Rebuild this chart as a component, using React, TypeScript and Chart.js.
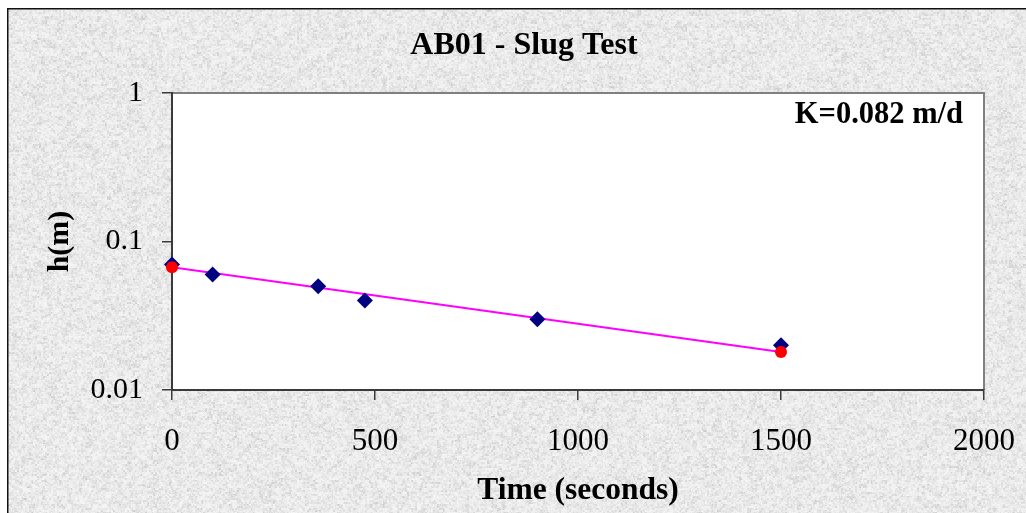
import React, { useEffect, useRef } from 'react';
import { Chart, registerables } from 'chart.js';

Chart.register(...registerables);

// ---- data ----
const times = [0, 100, 360, 475, 900, 1500];
const heads = [0.07, 0.06, 0.05, 0.04, 0.03, 0.02];
const fitTimes = [0, 1500];
const fitHeads = [0.067, 0.018];
const xTicks = [0, 500, 1000, 1500, 2000];
const yTicks = [0.01, 0.1, 1];
const yTickLabels = ['0.01', '0.1', '1'];
const chartTitle = 'AB01 - Slug Test';
const xTitle = 'Time (seconds)';
const yTitle = 'h(m)';
const kLabel = 'K=0.082 m/d';

const SERIF = "'Liberation Serif', 'Times New Roman', serif";
const W = 1019;
const H = 505;

function hash(x: number, y: number): number {
  const s = Math.sin(x * 12.9898 + y * 78.233) * 43758.5453;
  return s - Math.floor(s);
}

function makeTexture(w: number, h: number): HTMLCanvasElement {
  const off = document.createElement('canvas');
  off.width = w;
  off.height = h;
  const octx = off.getContext('2d')!;
  const img = octx.createImageData(w, h);
  for (let y = 0; y < h; y++) {
    for (let x = 0; x < w; x++) {
      const n1 = hash(Math.floor(x / 2), Math.floor(y / 2));
      const n2 = hash(x + 0.37, y + 0.71);
      const n3 = hash(Math.floor(x / 5) + 11.3, Math.floor(y / 4) + 7.1);
      const n = 0.45 * n1 + 0.3 * n2 + 0.25 * n3;
      const v = Math.round(246 - 48 * n * n);
      const i = (y * w + x) * 4;
      img.data[i] = v;
      img.data[i + 1] = v;
      img.data[i + 2] = v;
      img.data[i + 3] = 255;
    }
  }
  octx.putImageData(img, 0, 0);
  return off;
}

export default function App() {
  const ref = useRef<HTMLCanvasElement | null>(null);

  useEffect(() => {
    if (!ref.current) return;
    const texture = makeTexture(W, H);

    const deco = {
      id: 'deco',
      beforeDraw(chart: any) {
        const { ctx, chartArea } = chart;
        ctx.save();
        ctx.drawImage(texture, 0, 0);
        ctx.fillStyle = '#ffffff';
        ctx.fillRect(
          chartArea.left,
          chartArea.top,
          chartArea.right - chartArea.left,
          chartArea.bottom - chartArea.top
        );
        ctx.strokeStyle = '#111111';
        ctx.lineWidth = 1.5;
        ctx.beginPath();
        ctx.moveTo(0.75, H);
        ctx.lineTo(0.75, 0.75);
        ctx.lineTo(W, 0.75);
        ctx.stroke();
        // top & right plot frame
        ctx.strokeStyle = '#808080';
        ctx.lineWidth = 2;
        ctx.beginPath();
        ctx.moveTo(chartArea.left, chartArea.top);
        ctx.lineTo(chartArea.right, chartArea.top);
        ctx.lineTo(chartArea.right, chartArea.bottom);
        ctx.stroke();
        ctx.restore();
      },
      afterDraw(chart: any) {
        const { ctx, chartArea } = chart;
        ctx.save();
        ctx.fillStyle = '#000000';
        ctx.textBaseline = 'middle';
        ctx.textAlign = 'center';
        ctx.font = `bold 32px ${SERIF}`;
        ctx.fillText(chartTitle, 517, 38);
        ctx.textAlign = 'right';
        ctx.font = `bold 30.5px ${SERIF}`;
        ctx.fillText(kLabel, chartArea.right - 21, 107);
        ctx.restore();
      },
    };

    const chart = new Chart(ref.current, {
      type: 'scatter',
      data: {
        datasets: [
          {
            label: 'points',
            data: times.map((t, i) => ({ x: t, y: heads[i] })),
            showLine: false,
            pointStyle: 'rectRot',
            pointRadius: 8,
            pointBackgroundColor: '#000080',
            pointBorderColor: '#000080',
            pointBorderWidth: 0,
            order: 1,
            clip: false,
          },
          {
            label: 'fit',
            data: fitTimes.map((t, i) => ({ x: t, y: fitHeads[i] })),
            showLine: true,
            borderColor: '#ff00ff',
            borderWidth: 2,
            pointRadius: 0,
            order: 2,
            clip: false,
          },
          {
            label: 'fitPts',
            data: fitTimes.map((t, i) => ({ x: t, y: fitHeads[i] })),
            showLine: false,
            pointStyle: 'circle',
            pointRadius: 6,
            pointBackgroundColor: '#ff0000',
            pointBorderColor: '#ff0000',
            pointBorderWidth: 0,
            order: 0,
            clip: false,
          },
        ],
      },
      options: {
        animation: false,
        responsive: false,
        devicePixelRatio: 1,
        layout: { padding: { top: 85, right: 42, left: 0, bottom: 0 } },
        plugins: {
          legend: { display: false },
          tooltip: { enabled: false },
          title: { display: false },
        },
        scales: {
          x: {
            type: 'linear',
            min: 0,
            max: 2000,
            afterBuildTicks: (s: any) => {
              s.ticks = xTicks.map((v) => ({ value: v }));
            },
            afterFit: (s: any) => {
              s.height = 123;
              s.paddingLeft = 0;
              s.paddingRight = 0;
            },
            grid: {
              drawOnChartArea: false,
              drawTicks: true,
              tickLength: 10,
              color: '#3a3a3a',
              lineWidth: 1.5,
            },
            border: { display: true, color: '#3a3a3a', width: 2 },
            ticks: {
              color: '#000000',
              font: { family: SERIF, size: 31 },
              padding: 23,
              maxRotation: 0,
              autoSkip: false,
              callback: (v: any) => String(v),
            },
            title: {
              display: true,
              text: xTitle,
              color: '#000000',
              font: { family: SERIF, size: 31.5, weight: 'bold' },
              padding: { top: 0, bottom: 3 },
            },
          },
          y: {
            type: 'logarithmic',
            min: 0.01,
            max: 1,
            afterBuildTicks: (s: any) => {
              s.ticks = yTicks.map((v) => ({ value: v }));
            },
            afterFit: (s: any) => {
              s.width = 165;
              s.paddingTop = 0;
              s.paddingBottom = 0;
            },
            grid: {
              drawOnChartArea: false,
              drawTicks: true,
              tickLength: 10,
              color: '#3a3a3a',
              lineWidth: 1.5,
            },
            border: { display: true, color: '#3a3a3a', width: 2 },
            ticks: {
              color: '#000000',
              font: { family: SERIF, size: 30 },
              padding: 19,
              autoSkip: false,
              callback: (v: any) => {
                const i = yTicks.indexOf(Number(v));
                return i >= 0 ? yTickLabels[i] : '';
              },
            },
            title: {
              display: true,
              text: yTitle,
              color: '#000000',
              font: { family: SERIF, size: 30, weight: 'bold' },
              padding: { top: 35, bottom: 0 },
            },
          },
        },
      },
      plugins: [deco],
    } as any);

    return () => chart.destroy();
  }, []);

  return (
    <div style={{ position: 'fixed', left: 7, top: 8, width: W, height: H }}>
      <canvas ref={ref} width={W} height={H} style={{ display: 'block', width: W, height: H }} />
    </div>
  );
}
